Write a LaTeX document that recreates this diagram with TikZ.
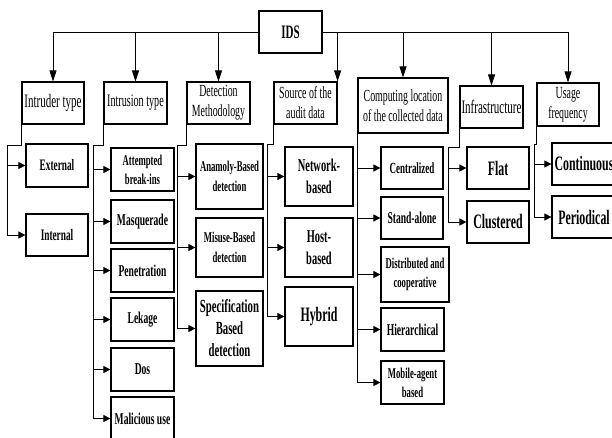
\documentclass[tikz,border=0pt]{standalone}
\usepackage{fontspec}
\newfontfamily\cf[FakeStretch=0.58]{Liberation Serif}
\usetikzlibrary{arrows.meta}
\newcommand\fsz[2]{\fontsize{#1}{#2}\selectfont}
\newcommand\mybox[7]{%
  \node[bx,#1,minimum width={#5-#3},minimum height={#6-#4}] (#2) at ({(#3+#5)/2},{(#4+#6)/2}) {#7};}
\begin{document}
\begin{tikzpicture}[x=1pt,y=-1pt,
  bx/.style={draw,line width=1.2pt,inner sep=0pt,align=center},
  lone/.style={font={\cf\fsz{19}{22}}},
  ltwo/.style={font={\cf\fsz{17}{20}}},
  ch/.style n args={2}{font={\cf\bfseries\fsz{#1}{#2}}},
  ln/.style={line width=0.8pt},
  ta/.style={line width=0.8pt,-{Triangle[length=11pt,width=7pt]}},
  sa/.style={line width=0.8pt,-{Triangle[length=7pt,width=7pt]}}]
\useasboundingbox (0,0) rectangle (612,437);
% root
\mybox{font={\cf\bfseries\fsz{19}{22}}}{ids}{259}{11}{322}{53}{IDS}
% level 1
\mybox{lone}{intr}{22}{82}{84}{124}{Intruder type}
\mybox{font={\cf\fsz{17.5}{22}}}{intu}{104}{82}{167}{124}{Intrusion type}
\mybox{ltwo}{det}{187}{82}{250}{124}{Detection\\Methodology}
\mybox{ltwo}{src}{274}{82}{337}{124}{Source of the\\audit data}
\mybox{ltwo}{comp}{358}{78}{448}{133}{Computing location\\of the collected data}
\mybox{lone}{infra}{460}{86}{523}{128}{Infrastructure}
\mybox{ltwo}{use}{537}{83}{599}{126}{Usage\\frequency}
% intruder type
\mybox{ch={16}{20}}{ext}{26}{144}{88}{187}{External}
\mybox{ch={16}{20}}{int}{26}{214}{88}{256}{Internal}
% intrusion type
\mybox{ch={15}{19}}{att}{111}{148}{174}{191}{Attempted\\break-ins}
\mybox{ch={16.5}{20}}{mas}{111}{200}{174}{243}{Masquerade}
\mybox{ch={16.5}{20}}{pen}{111}{249}{174}{292}{Penetration}
\mybox{ch={16.5}{20}}{lek}{111}{298}{174}{341}{Lekage}
\mybox{ch={16.5}{20}}{dos}{111}{348}{174}{391}{Dos}
\mybox{ch={16.5}{20}}{mal}{111}{397}{174}{440}{Malicious use}
% detection
\mybox{ch={15}{20}}{ano}{196}{144}{263}{209}{Anamoly-Based\\detection}
\mybox{ch={15}{20}}{mis}{196}{218}{263}{277}{Misuse-Based\\detection}
\mybox{ch={18.5}{22}}{spe}{196}{291}{263}{366}{Specification\\Based\\detection}
% source
\mybox{ch={18}{22.5}}{net}{285}{147}{353}{206}{Network-\\based}
\mybox{ch={18}{22.5}}{host}{285}{218}{353}{277}{Host-\\based}
\mybox{ch={20.5}{24}}{hyb}{285}{287}{353}{346}{Hybrid}
% computing location
\mybox{ch={15.5}{19}}{cen}{381}{147}{443}{189}{Centralized}
\mybox{ch={16.5}{20}}{sta}{381}{197}{443}{239}{Stand-alone}
\mybox{ch={15}{19}}{dis}{381}{247}{449}{302}{Distributed and\\cooperative}
\mybox{ch={16.5}{20}}{hie}{381}{308}{444}{351}{Hierarchical}
\mybox{ch={15}{19}}{mob}{381}{361}{444}{404}{Mobile-agent\\based}
% infrastructure
\mybox{ch={20.5}{24}}{flat}{467}{147}{529}{189}{Flat}
\mybox{ch={20.5}{24}}{clu}{467}{201}{529}{243}{Clustered}
% usage
\mybox{ch={20.5}{24}}{con}{552}{143}{616}{185}{Continuous}
\mybox{ch={20.5}{24}}{per}{552}{196}{616}{238}{Periodical}
% top bus
\draw[ln] (ids.west) -- (ids.west -| intr.north);
\draw[ln] (ids.east) -- (ids.east -| use.north);
\foreach \n in {intr,intu,det,comp,infra,use}
  \draw[ta] (ids.west -| \n.north) -- (\n.north);
\draw[ta] (ids.west -| src.north east) -- (src.north east);
% group junctions
\coordinate (j1) at (7,145);
\coordinate (j2) at (93,145);
\coordinate (j3) at (177,145);
\coordinate (j4) at (267,144);
\coordinate (j6) at (448,147);
\coordinate (j7) at (534,144);
\draw[ln] (intr.south west) |- (j1) -- (j1 |- int.west);
\draw[ln] (intu.south west) |- (j2) -- (j2 |- mal.west);
\draw[ln] (det.south west) |- (j3) -- (j3 |- spe.west);
\draw[ln] (src.south west) |- (j4) -- (j4 |- hyb.west);
\draw[ln] (comp.south west) -- (comp.south west |- mob.west);
\draw[ln] (infra.south west) |- (j6) -- (j6 |- clu.west);
\draw[ln] (use.south west) |- (j7) -- (j7 |- per.west);
\foreach \n in {ext,int} \draw[sa] (j1 |- \n.west) -- (\n.west);
\foreach \n in {att,mas,pen,lek,dos,mal} \draw[sa] (j2 |- \n.west) -- (\n.west);
\foreach \n in {ano,mis,spe} \draw[sa] (j3 |- \n.west) -- (\n.west);
\foreach \n in {net,host,hyb} \draw[sa] (j4 |- \n.west) -- (\n.west);
\foreach \n in {cen,sta,dis,hie,mob} \draw[sa] (comp.south west |- \n.west) -- (\n.west);
\foreach \n in {flat,clu} \draw[sa] (j6 |- \n.west) -- (\n.west);
\foreach \n in {con,per} \draw[sa] (j7 |- \n.west) -- (\n.west);
\end{tikzpicture}
\end{document}
